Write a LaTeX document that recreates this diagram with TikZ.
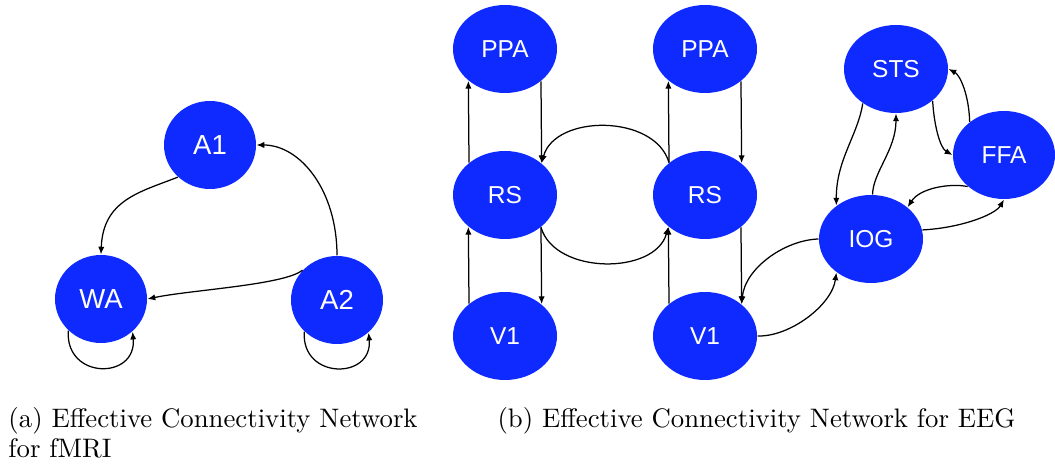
\documentclass[tikz,border=0pt]{standalone}
\usepackage{fontspec}
\newfontfamily\labelfont{Liberation Sans}
\usetikzlibrary{shapes.geometric,arrows.meta}
\definecolor{regionblue}{RGB}{14,42,255}
\begin{document}
\begin{tikzpicture}[x=0.4pt,y=0.4pt,
  region/.style={ellipse,fill=regionblue,draw=none,inner sep=0pt,text=white},
  regA/.style={region,minimum width=36.8pt,minimum height=35.2pt,font=\labelfont\fontsize{11}{13}\selectfont},
  regB/.style={region,minimum width=41.6pt,minimum height=35.2pt,font=\labelfont\fontsize{9.8}{11}\selectfont},
  link/.style={line width=0.5pt,-{Latex[length=3.1pt,width=2.5pt]}},
  caption/.style={inner sep=0pt,anchor=base west,font=\fontsize{10.7}{12}\selectfont,align=left}]
\useasboundingbox (0,0) rectangle (1055,466);

% (a) fMRI network
\node[regA] (a1) at (210,321) {A1};
\node[regA] (wa) at (101,167) {WA};
\node[regA] (a2) at (337,166) {A2};

\draw[link] (a1.225) .. controls (140,274) and (103,266) .. (wa.90);
\draw[link] (a2.90) .. controls (337,276) and (300,321) .. (a1.0);
\draw[link] (a2.139) .. controls (285,181) and (190,176) .. (wa.0);
\draw[link] (wa.224) .. controls (65,86) and (137,86) .. (wa.314);
\draw[link] (a2.224) .. controls (301,86) and (373,86) .. (a2.314);

% (b) EEG network: two parallel columns
\node[regB] (ppaL) at (505,417) {PPA};
\node[regB] (rsL)  at (505,271) {RS};
\node[regB] (v1L)  at (505,130) {V1};
\node[regB] (ppaR) at (705,417) {PPA};
\node[regB] (rsR)  at (705,271) {RS};
\node[regB] (v1R)  at (705,130) {V1};

\foreach \c in {L,R}{
  \draw[link] (rs\c.138.5) -- (ppa\c.221.5);
  \draw[link] (ppa\c.318.5) -- (rs\c.41.5);
  \draw[link] (v1\c.138.5) -- (rs\c.221.5);
  \draw[link] (rs\c.318.5) -- (v1\c.41.5);
}
\draw[link] (rsR.138.5) .. controls (655,352) and (555,352) .. (rsL.41.5);
\draw[link] (rsL.318.5) .. controls (555,191) and (655,191) .. (rsR.221.5);

% (b) EEG network: ventral cluster
\node[regB] (sts) at (896,397) {STS};
\node[regB,minimum width=40.8pt] (ffa) at (1004,311) {FFA};
\node[regB] (iog) at (871,227) {IOG};

\draw[link] (sts.226) .. controls (858,331) and (836,306) .. (iog.136);
\draw[link] (iog.88) .. controls (873,294) and (896,316) .. (sts.270);
\draw[link] (sts.319) .. controls (934,341) and (940,318) .. (ffa.180);
\draw[link] (ffa.136.7) .. controls (969,371) and (960,391) .. (sts.0);
\draw[link] (ffa.221.4) .. controls (950,283) and (920,278) .. (iog.41.7);
\draw[link] (iog.10) .. controls (960,238) and (995,251) .. (ffa.270);
\draw[link] (iog.180) .. controls (785,226) and (745,198) .. (v1R.41.5);
\draw[link] (v1R.0) .. controls (790,129) and (832,161) .. (iog.224);

% captions (base anchor sits on the last line)
\node[caption] (capa) at (8,8) {(a) Effective Connectivity Network\\for fMRI};
\node[caption] (capb) at (497,38) {(b) Effective Connectivity Network for EEG};
\end{tikzpicture}
\end{document}
